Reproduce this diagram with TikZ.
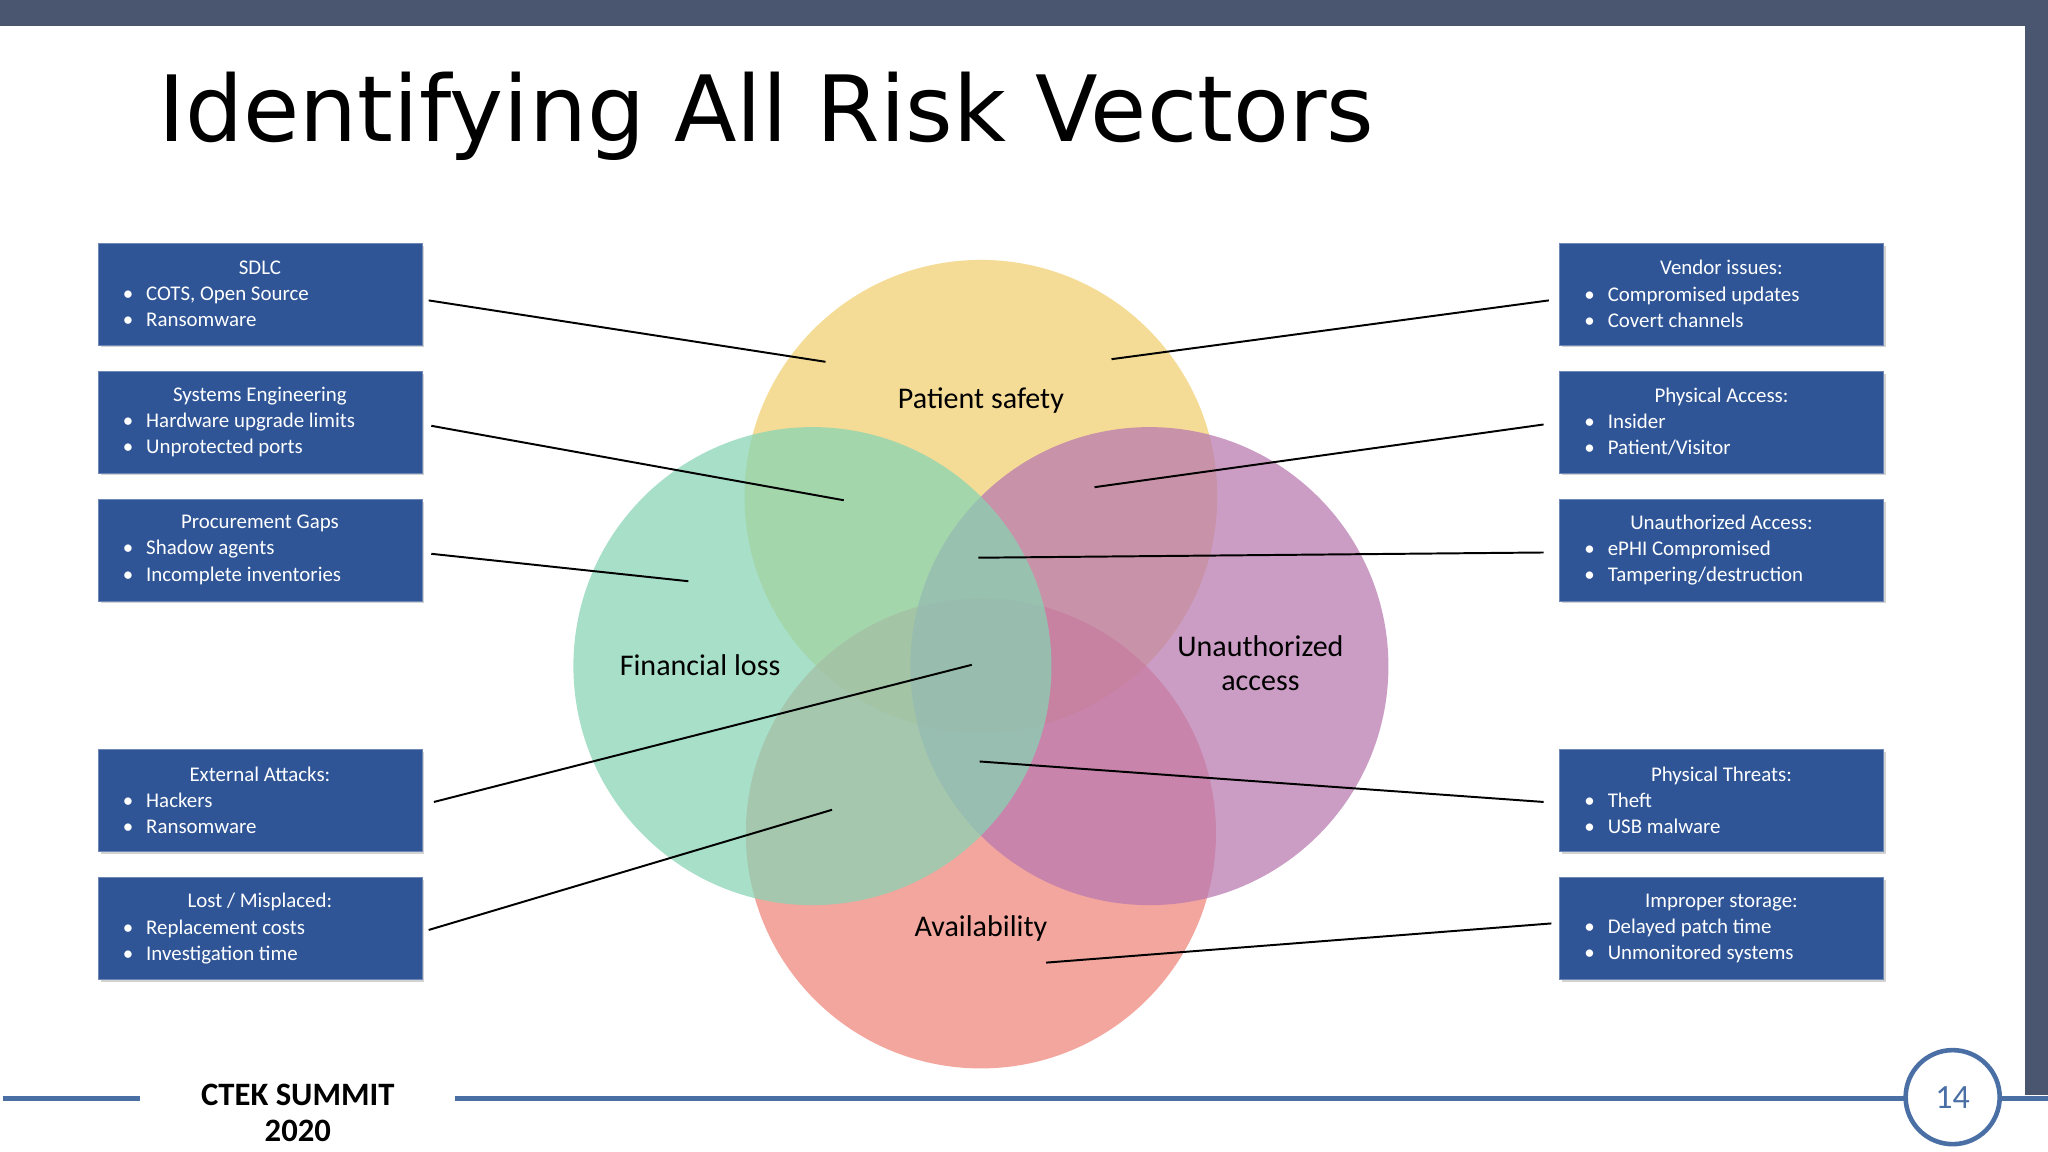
\documentclass[tikz,border=0pt]{standalone}
\usepackage{fontspec}
\setmainfont{Carlito}
\newfontfamily\titlefont{DejaVu Sans}
\usetikzlibrary{shadows}
\definecolor{bar}{HTML}{4A5570}
\definecolor{boxblue}{HTML}{2F5597}
\definecolor{foot}{HTML}{4A6FA5}
\definecolor{cy}{HTML}{F2CF6E}
\definecolor{cg}{HTML}{86D4B4}
\definecolor{cp}{HTML}{B878B0}
\definecolor{cr}{HTML}{EF8478}
\tikzset{
 infobox/.style={fill=boxblue,draw=boxblue!70!white,text=white,minimum width=248pt,minimum height=78pt,inner sep=0pt,drop shadow={opacity=0.35,shadow xshift=2pt,shadow yshift=-2pt},font=\fontsize{16}{20}\selectfont,align=left},
 lead/.style={line width=1.5pt,black},
 vlabel/.style={font=\fontsize{23}{26}\selectfont,align=center},
}
\newcommand{\boxtext}[3]{\begin{minipage}{230pt}\centering #1\par\raggedright
 \hspace*{10pt}\textbullet\hspace{10pt}#2\par\hspace*{10pt}\textbullet\hspace{10pt}#3\end{minipage}}
\begin{document}
\begin{tikzpicture}[x=1pt,y=-1pt]
\useasboundingbox (0,0) rectangle (1568,882);
\fill[white] (0,0) rectangle (1568,882);
\fill[bar] (0,0) rectangle (1568,20);
\fill[bar] (1550,0) rectangle (1568,838);
\node[anchor=base west,font=\titlefont\fontsize{70}{74}\selectfont] (title) at (118,108) {Identifying All Risk Vectors};
% circles
\begin{scope}[opacity=0.72]
\fill[cy] (751,380) circle (181);
\fill[cr] (751,638) circle (180);
\fill[cp] (880,510) circle (183);
\fill[cg] (622,510) circle (183);
\end{scope}
\node[vlabel] (ps) at (751,307) {Patient safety};
\node[vlabel] (fl) at (536,509) {Financial loss};
\node[vlabel] (ua) at (965,508) {Unauthorized\\access};
\node[vlabel] (av) at (751,711) {Availability};
% boxes
\node[infobox] (b1) at (199,225) {\boxtext{SDLC}{COTS, Open Source}{Ransomware}};
\node[infobox] (b2) at (199,323) {\boxtext{Systems Engineering}{Hardware upgrade limits}{Unprotected ports}};
\node[infobox] (b3) at (199,421) {\boxtext{Procurement Gaps}{Shadow agents}{Incomplete inventories}};
\node[infobox] (b4) at (199,613) {\boxtext{External Attacks:}{Hackers}{Ransomware}};
\node[infobox] (b5) at (199,711) {\boxtext{Lost / Misplaced:}{Replacement costs}{Investigation time}};
\node[infobox] (c1) at (1318,225) {\boxtext{Vendor issues:}{Compromised updates}{Covert channels}};
\node[infobox] (c2) at (1318,323) {\boxtext{Physical Access:}{Insider}{Patient/Visitor}};
\node[infobox] (c3) at (1318,421) {\boxtext{Unauthorized Access:}{ePHI Compromised}{Tampering/destruction}};
\node[infobox] (c4) at (1318,613) {\boxtext{Physical Threats:}{Theft}{USB malware}};
\node[infobox] (c5) at (1318,711) {\boxtext{Improper storage:}{Delayed patch time}{Unmonitored systems}};
% leader ends
\coordinate (e1) at (632,277); \coordinate (e2) at (646,383); \coordinate (e3) at (527,445);
\coordinate (e4) at (744,509); \coordinate (e5) at (637,620);
\coordinate (f1) at (851,275); \coordinate (f2) at (838,373); \coordinate (f3) at (749,427);
\coordinate (f4) at (750,583); \coordinate (f5) at (801,737);
\draw[lead] ([shift={(5,5)}]b1.east) -- (e1);
\draw[lead] ([shift={(7,3)}]b2.east) -- (e2);
\draw[lead] ([shift={(7,3)}]b3.east) -- (e3);
\draw[lead] ([shift={(9,1)}]b4.east) -- (e4);
\draw[lead] ([shift={(5,1)}]b5.east) -- (e5);
\draw[lead] ([shift={(-8,5)}]c1.west) -- (f1);
\draw[lead] ([shift={(-12,2)}]c2.west) -- (f2);
\draw[lead] ([shift={(-12,2)}]c3.west) -- (f3);
\draw[lead] ([shift={(-12,1)}]c4.west) -- (f4);
\draw[lead] ([shift={(-6,-4)}]c5.west) -- (f5);
% footer
\draw[foot,line width=3.5pt] (2,841) -- (107,841);
\draw[foot,line width=3.5pt] (348,841) -- (1568,841);
\node[font=\bfseries\fontsize{25}{28}\selectfont,align=center] (ctek) at (228,852) {CTEK SUMMIT\\2020};
\node[circle,draw=foot,line width=3.5pt,fill=white,minimum size=72pt,text=foot,font=\fontsize{26}{28}\selectfont] (pg) at (1495,840) {14};
\end{tikzpicture}
\end{document}
